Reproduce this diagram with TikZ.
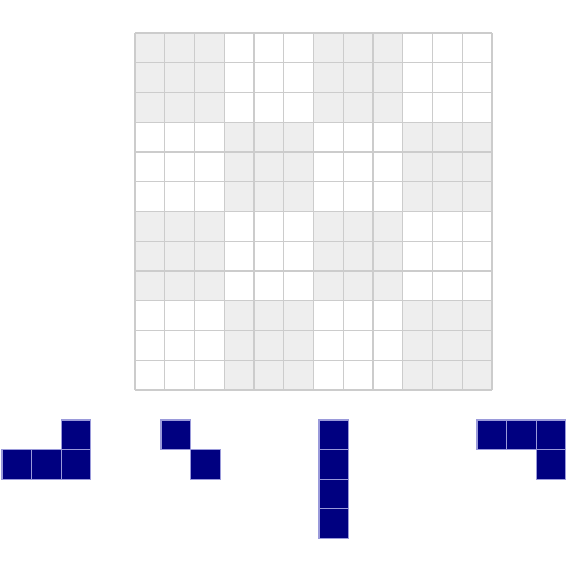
\documentclass[tikz,border=0pt]{standalone}
\definecolor{boardfill}{HTML}{EEEEEE}
\definecolor{boardline}{HTML}{CCCCCC}
\definecolor{piecefill}{HTML}{000080}
\definecolor{pieceline}{HTML}{9A9ADA}
\tikzset{
  boardblock/.style={fill=boardfill},
  boardlines/.style={draw=boardline, line width=1.3pt},
  piececell/.style={draw=pieceline, fill=piecefill, line width=1.1pt}
}
\begin{document}
\begin{tikzpicture}[x=1pt,y=-1pt]
    \useasboundingbox (0,0) rectangle (578,563);

    % Board (3x3 blocks, checkered)
    \begin{scope}[shift={(135,33)}, x=29.75pt, y=-29.75pt]
        \foreach \bi in {0,...,3} {
            \foreach \bj in {0,...,3} {
                \pgfmathtruncatemacro{\shade}{mod(\bi+\bj,2)}
                \ifnum\shade=0
                    \fill[boardblock] (3*\bi,3*\bj) rectangle ++(3,3);
                \fi
            }
        }
        \foreach \k in {0,...,12} {
            \draw[boardlines] (\k,0) -- (\k,12);
            \draw[boardlines] (0,\k) -- (12,\k);
        }
    \end{scope}

    % L piece
    \begin{scope}[shift={(2,420)}, x=29.6pt, y=-29.6pt]
        \foreach \i/\j in {0/1, 1/1, 2/1, 2/0}
            \draw[piececell] (\i,\j) rectangle ++(1,1);
    \end{scope}

    % Diagonal pair
    \begin{scope}[shift={(161,420)}, x=29.6pt, y=-29.6pt]
        \foreach \i/\j in {0/0, 1/1}
            \draw[piececell] (\i,\j) rectangle ++(1,1);
    \end{scope}

    % Bar
    \begin{scope}[shift={(319,420)}, x=29.6pt, y=-29.6pt]
        \foreach \j in {0,...,3}
            \draw[piececell] (0,\j) rectangle ++(1,1);
    \end{scope}

    % Hook
    \begin{scope}[shift={(477,420)}, x=29.6pt, y=-29.6pt]
        \foreach \i/\j in {0/0, 1/0, 2/0, 2/1}
            \draw[piececell] (\i,\j) rectangle ++(1,1);
    \end{scope}
\end{tikzpicture}
\end{document}
